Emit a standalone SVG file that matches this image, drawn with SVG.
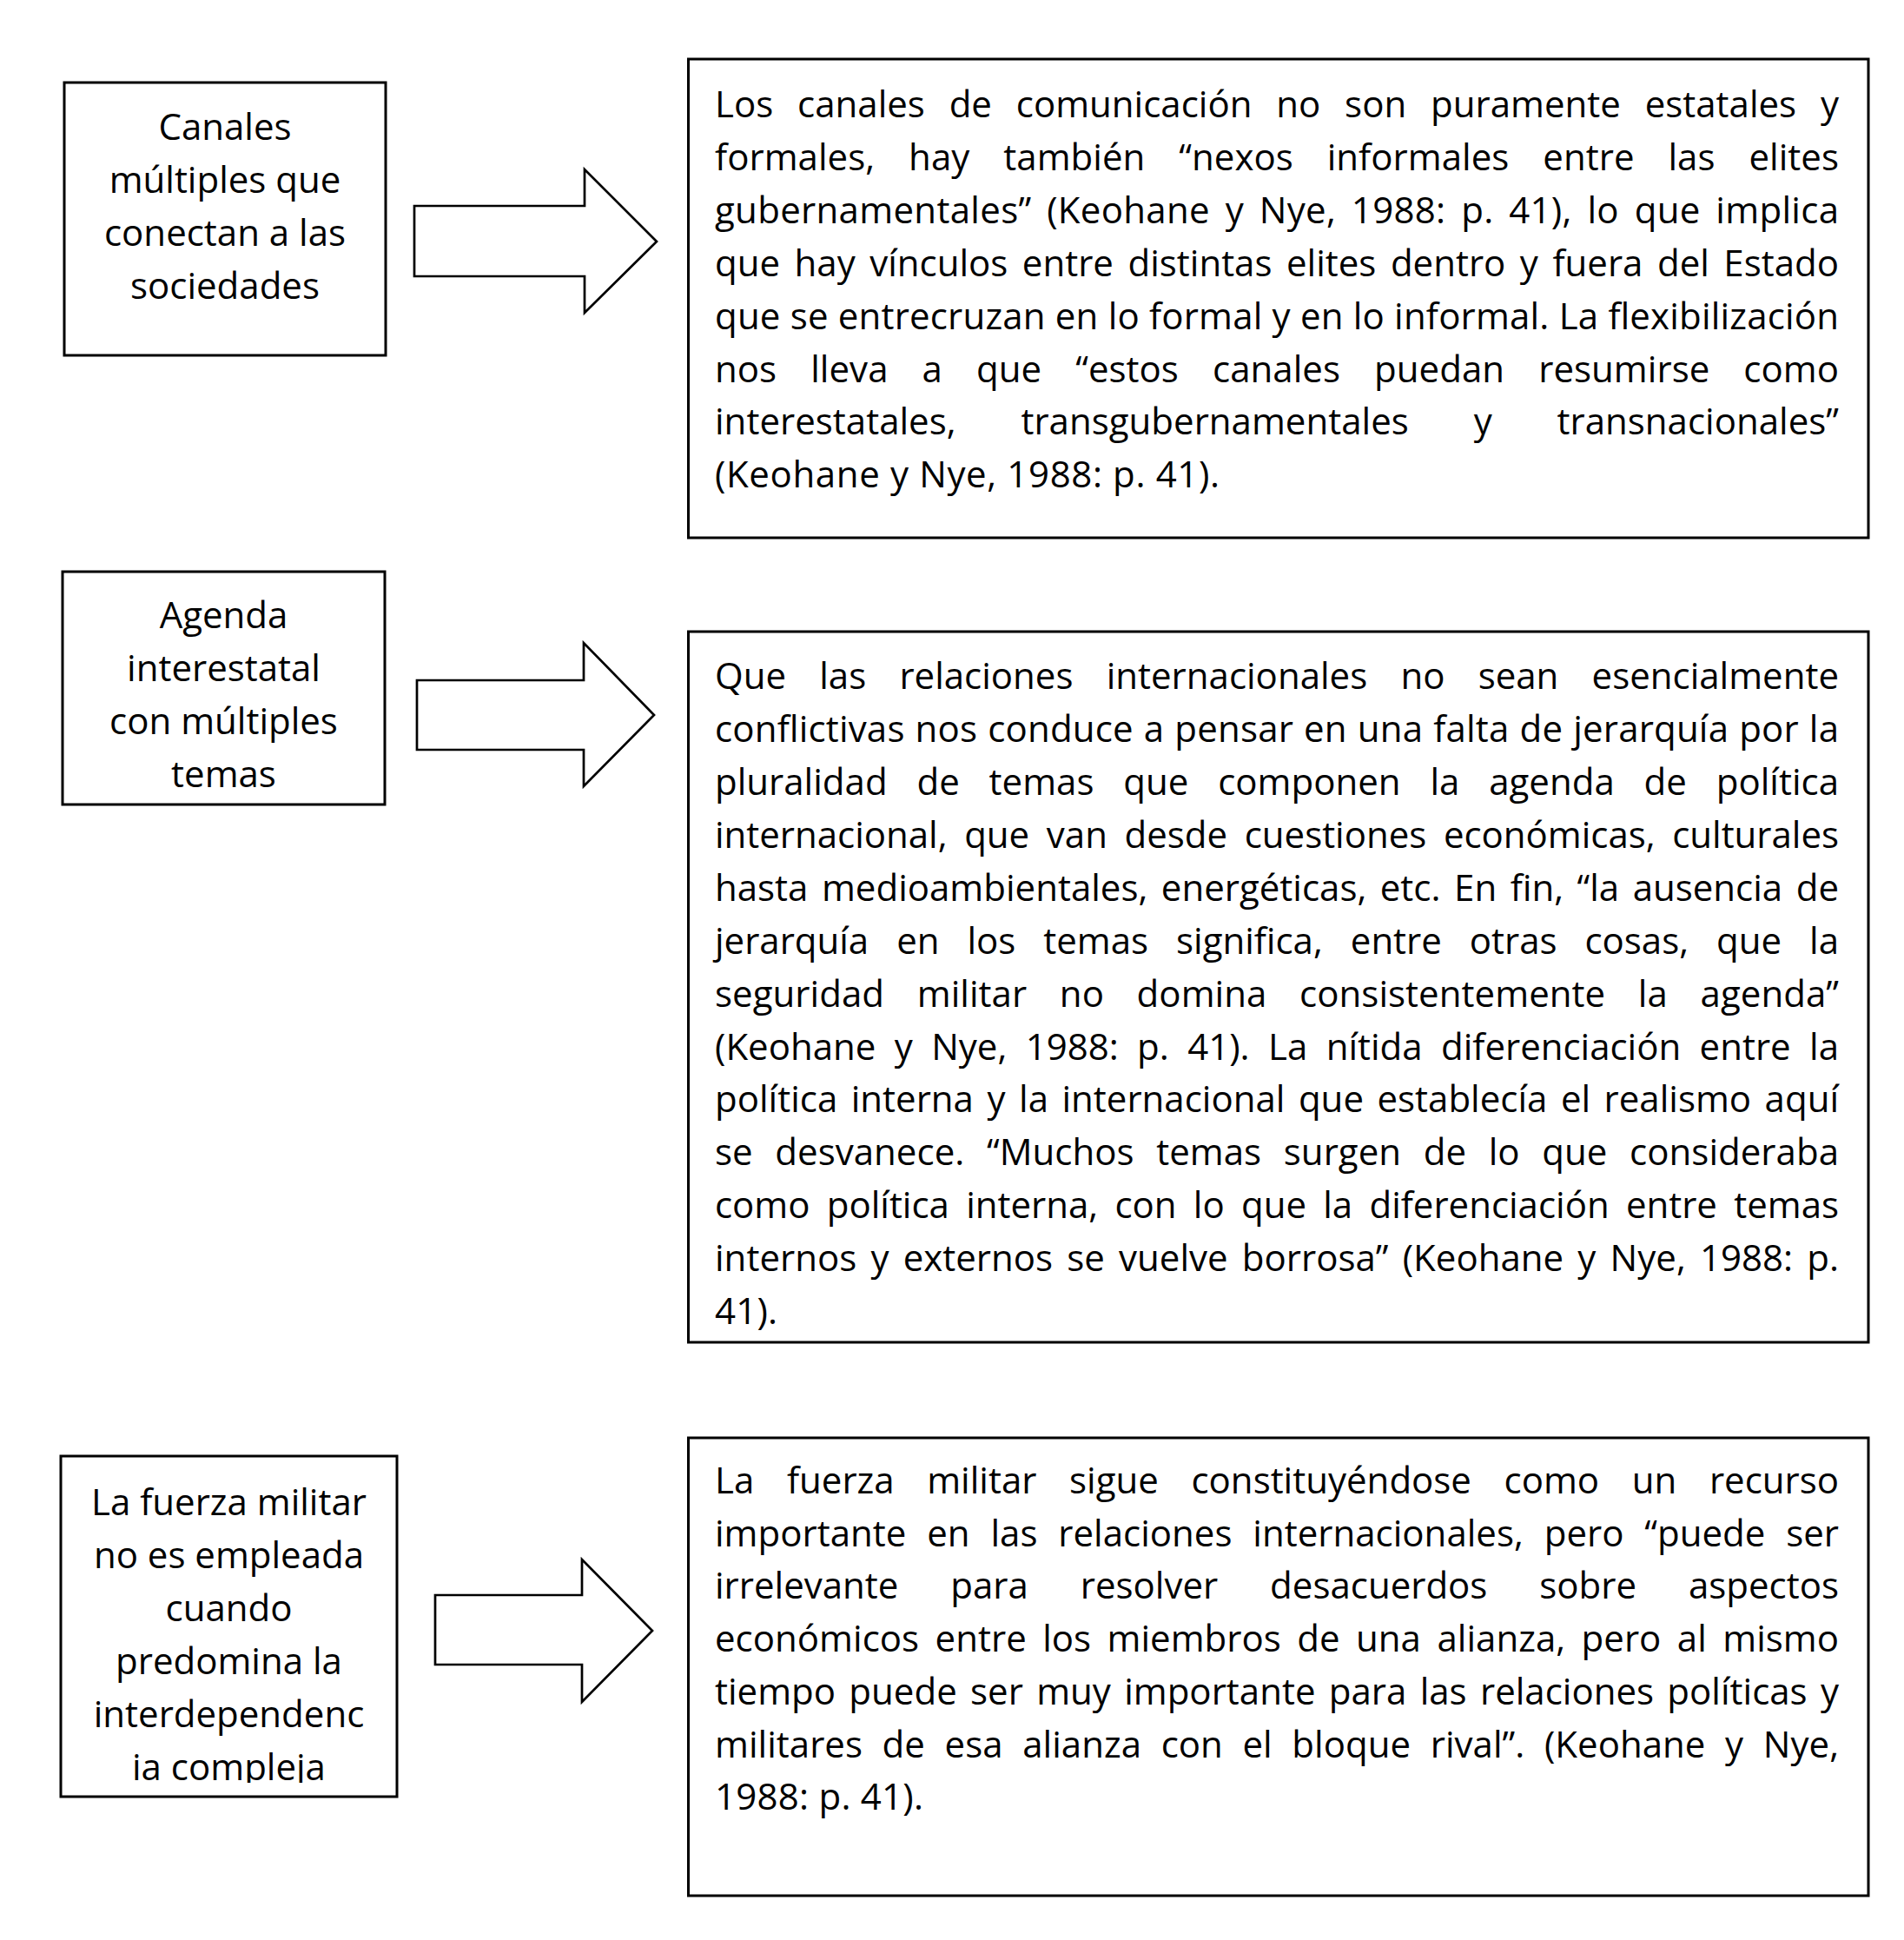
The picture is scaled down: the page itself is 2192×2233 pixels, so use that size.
<svg xmlns="http://www.w3.org/2000/svg" width="2192" height="2233" viewBox="0 0 2192 2233">
<style>
.bg{fill:#fff}
.box{fill:#fff;stroke:#000;stroke-width:3}
.arrow{fill:#fff;stroke:#000;stroke-width:2.7;stroke-linejoin:miter}
.t{font-family:"Open Sans","Noto Sans",sans-serif;font-size:42px;fill:#000}
.c{text-anchor:middle}
</style>
<defs>
<clipPath id="clipL3"><rect x="70" y="1676" width="387" height="376"/></clipPath>
</defs>
<rect class="bg" x="0" y="0" width="2192" height="2233"/>

<g id="connectors">
<polygon class="arrow" points="477,237 673,237 673,195 756,278 673,360 673,318 477,318"/>
<polygon class="arrow" points="480,783 672,783 672,740 753,823 672,905 672,863 480,863"/>
<polygon class="arrow" points="501,1836 670,1836 670,1795 751,1877 670,1959 670,1916 501,1916"/>
</g>

<g id="node-left-1">
<rect class="box" x="74" y="95" width="370" height="314"/>
<text class="t c" x="259" y="161">Canales</text>
<text class="t c" x="259" y="222">múltiples que</text>
<text class="t c" x="259" y="283">conectan a las</text>
<text class="t c" x="259" y="344">sociedades</text>
</g>

<g id="node-right-1">
<rect class="box" x="792.5" y="68" width="1358.5" height="551"/>
<text class="t" x="823" y="135" textLength="1294" lengthAdjust="spacing" word-spacing="16.9">Los canales de comunicación no son puramente estatales y</text>
<text class="t" x="823" y="196" textLength="1294" lengthAdjust="spacing" word-spacing="28">formales, hay también “nexos informales entre las elites</text>
<text class="t" x="823" y="257" textLength="1294" lengthAdjust="spacing" word-spacing="6.5">gubernamentales” (Keohane y Nye, 1988: p. 41), lo que implica</text>
<text class="t" x="823" y="318" textLength="1294" lengthAdjust="spacing" word-spacing="5.6">que hay vínculos entre distintas elites dentro y fuera del Estado</text>
<text class="t" x="823" y="378.6" textLength="1294" lengthAdjust="spacing">que se entrecruzan en lo formal y en lo informal. La flexibilización</text>
<text class="t" x="823" y="439.5" textLength="1294" lengthAdjust="spacing" word-spacing="28.1">nos lleva a que “estos canales puedan resumirse como</text>
<text class="t" x="823" y="500.4" textLength="1294" lengthAdjust="spacing" word-spacing="63.9">interestatales, transgubernamentales y transnacionales”</text>
<text class="t" x="823" y="561.3" textLength="581" lengthAdjust="spacing">(Keohane y Nye, 1988: p. 41).</text>
</g>

<g id="node-left-2">
<rect class="box" x="72" y="658" width="371" height="268"/>
<text class="t c" x="257.5" y="723">Agenda</text>
<text class="t c" x="257.5" y="784">interestatal</text>
<text class="t c" x="257.5" y="845">con múltiples</text>
<text class="t c" x="257.5" y="906">temas</text>
</g>

<g id="node-right-2">
<rect class="box" x="792.5" y="727" width="1358.5" height="818"/>
<text class="t" x="823" y="793.2" textLength="1294" lengthAdjust="spacing" word-spacing="27.3">Que las relaciones internacionales no sean esencialmente</text>
<text class="t" x="823" y="854.1" textLength="1294" lengthAdjust="spacing" word-spacing="0.9">conflictivas nos conduce a pensar en una falta de jerarquía por la</text>
<text class="t" x="823" y="915" textLength="1294" lengthAdjust="spacing" word-spacing="22.9">pluralidad de temas que componen la agenda de política</text>
<text class="t" x="823" y="975.9" textLength="1294" lengthAdjust="spacing" word-spacing="8.8">internacional, que van desde cuestiones económicas, culturales</text>
<text class="t" x="823" y="1036.8" textLength="1294" lengthAdjust="spacing" word-spacing="4.6">hasta medioambientales, energéticas, etc. En fin, “la ausencia de</text>
<text class="t" x="823" y="1097.7" textLength="1294" lengthAdjust="spacing" word-spacing="21.1">jerarquía en los temas significa, entre otras cosas, que la</text>
<text class="t" x="823" y="1158.6" textLength="1294" lengthAdjust="spacing" word-spacing="26.7">seguridad militar no domina consistentemente la agenda”</text>
<text class="t" x="823" y="1219.5" textLength="1294" lengthAdjust="spacing" word-spacing="10.5">(Keohane y Nye, 1988: p. 41). La nítida diferenciación entre la</text>
<text class="t" x="823" y="1280.4" textLength="1294" lengthAdjust="spacing" word-spacing="4.6">política interna y la internacional que establecía el realismo aquí</text>
<text class="t" x="823" y="1341.3" textLength="1294" lengthAdjust="spacing" word-spacing="14.7">se desvanece. “Muchos temas surgen de lo que consideraba</text>
<text class="t" x="823" y="1402.2" textLength="1294" lengthAdjust="spacing" word-spacing="8.4">como política interna, con lo que la diferenciación entre temas</text>
<text class="t" x="823" y="1463.1" textLength="1294" lengthAdjust="spacing" word-spacing="5.2">internos y externos se vuelve borrosa” (Keohane y Nye, 1988: p.</text>
<text class="t" x="823" y="1524" textLength="72" lengthAdjust="spacing">41).</text>
</g>

<g id="node-left-3">
<rect class="box" x="70" y="1676" width="387" height="392"/>
<g clip-path="url(#clipL3)">
<text class="t c" x="263.5" y="1744">La fuerza militar</text>
<text class="t c" x="263.5" y="1805">no es empleada</text>
<text class="t c" x="263.5" y="1866">cuando</text>
<text class="t c" x="263.5" y="1927">predomina la</text>
<text class="t c" x="263.5" y="1988">interdependenc</text>
<text class="t c" x="263.5" y="2049">ia compleja</text>
</g>
</g>

<g id="node-right-3">
<rect class="box" x="792.5" y="1655" width="1358.5" height="527"/>
<text class="t" x="823" y="1719" textLength="1294" lengthAdjust="spacing" word-spacing="26.7">La fuerza militar sigue constituyéndose como un recurso</text>
<text class="t" x="823" y="1779.7" textLength="1294" lengthAdjust="spacing" word-spacing="12.9">importante en las relaciones internacionales, pero “puede ser</text>
<text class="t" x="823" y="1840.4" textLength="1294" lengthAdjust="spacing" word-spacing="49">irrelevante para resolver desacuerdos sobre aspectos</text>
<text class="t" x="823" y="1901.1" textLength="1294" lengthAdjust="spacing" word-spacing="7.5">económicos entre los miembros de una alianza, pero al mismo</text>
<text class="t" x="823" y="1961.8" textLength="1294" lengthAdjust="spacing" word-spacing="4.4">tiempo puede ser muy importante para las relaciones políticas y</text>
<text class="t" x="823" y="2022.5" textLength="1294" lengthAdjust="spacing" word-spacing="11.7">militares de esa alianza con el bloque rival”. (Keohane y Nye,</text>
<text class="t" x="823" y="2083.2" textLength="240" lengthAdjust="spacing">1988: p. 41).</text>
</g>
</svg>
